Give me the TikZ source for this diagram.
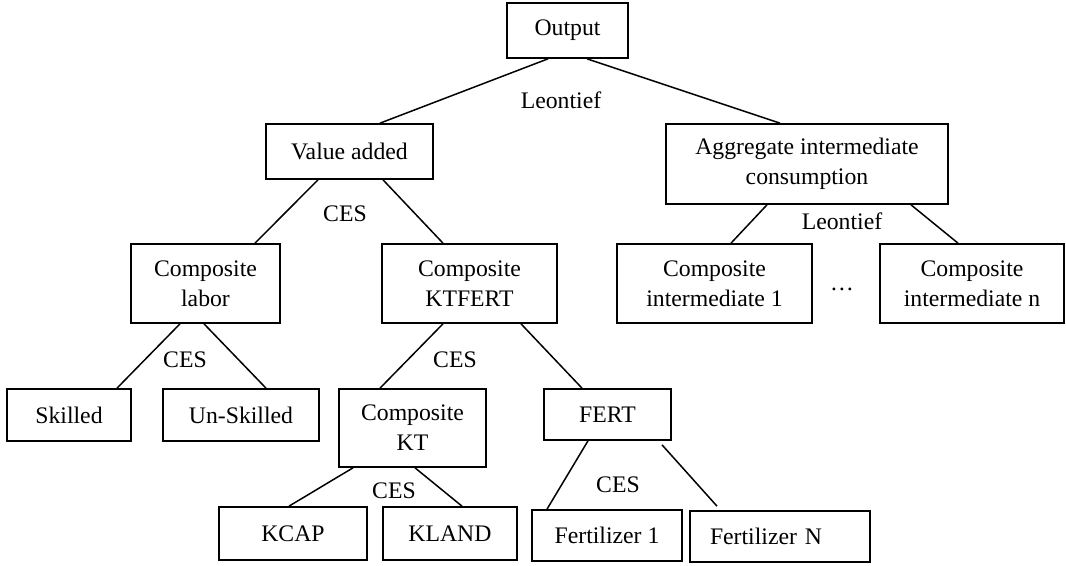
\documentclass[tikz,border=0pt]{standalone}
\usepackage{fontspec}
\setmainfont{Liberation Serif}
\usepackage{tikz}
\usetikzlibrary{shapes,arrows.meta,calc}

\begin{document}
\begin{tikzpicture}[
    font=\fontsize{13.5pt}{17pt}\selectfont,
    box/.style={draw,line width=0.95pt,inner sep=0pt,align=center},
    fn/.style={inner sep=0pt},
    link/.style={line width=0.85pt,black}
  ]
        \useasboundingbox (0,0) rectangle (21.32,-11.32);

        % nodes of the nest
        \node[box,minimum width=2.42cm,minimum height=1.10cm] (out) at (11.35,-0.61) {Output};
        \node[box,minimum width=3.34cm,minimum height=1.10cm] (va) at (6.99,-3.03) {Value added};
        \node[box,minimum width=5.64cm,minimum height=1.60cm] (agg) at (16.14,-3.28) {Aggregate intermediate\\consumption};
        \node[box,minimum width=2.98cm,minimum height=1.58cm] (lab) at (4.11,-5.67) {Composite\\labor};
        \node[box,minimum width=3.50cm,minimum height=1.58cm] (ktfert) at (9.39,-5.67) {Composite\\KTFERT};
        \node[box,minimum width=3.90cm,minimum height=1.58cm] (int1) at (14.29,-5.67) {Composite\\intermediate 1};
        \node[box,minimum width=3.68cm,minimum height=1.58cm] (intn) at (19.44,-5.67) {Composite\\intermediate n};
        \node[box,minimum width=2.48cm,minimum height=1.04cm] (skl) at (1.38,-8.30) {Skilled};
        \node[box,minimum width=3.12cm,minimum height=1.04cm] (unskl) at (4.82,-8.30) {Un-Skilled};
        \node[box,minimum width=2.94cm,minimum height=1.56cm] (kt) at (8.25,-8.56) {Composite\\KT};
        \node[box,minimum width=2.54cm,minimum height=1.02cm] (fert) at (12.15,-8.29) {FERT};
        \node[box,minimum width=2.96cm,minimum height=1.06cm] (kcap) at (5.86,-10.67) {KCAP};
        \node[box,minimum width=2.68cm,minimum height=1.06cm] (kland) at (9.00,-10.67) {KLAND};
        \node[box,minimum width=3.00cm,minimum height=1.02cm] (fert1) at (12.14,-10.71) {Fertilizer 1};
        \node[box,inner xsep=0.4cm,text width=2.8cm,align=left,minimum height=1.02cm] (fertn) at (15.60,-10.73) {Fertilizer N};

        % function labels
        \node[fn] (leo1) at (11.22,-2.00) {Leontief};
        \node[fn] (leo2) at (16.84,-4.42) {Leontief};
        \node[fn] (ces1) at (6.90,-4.28) {CES};
        \node[fn] (ces2) at (3.70,-7.20) {CES};
        \node[fn] (ces3) at (9.10,-7.20) {CES};
        \node[fn] (ces4) at (7.88,-9.82) {CES};
        \node[fn] (ces5) at (12.36,-9.70) {CES};
        \node[fn,anchor=base] (dots) at (16.84,-5.82) {…};

        % links
        \draw[link] ([xshift=-0.39cm]out.south) -- ([xshift=0.61cm]va.north);
        \draw[link] ([xshift=0.39cm]out.south) -- ([xshift=-0.54cm]agg.north);
        \draw[link] ([xshift=-0.63cm]va.south) -- ([xshift=0.99cm]lab.north);
        \draw[link] ([xshift=0.67cm]va.south) -- ([xshift=-0.53cm]ktfert.north);
        \draw[link] ([xshift=-0.80cm]agg.south) -- ([xshift=0.33cm]int1.north);
        \draw[link] ([xshift=2.08cm]agg.south) -- ([xshift=-0.28cm]intn.north);
        \draw[link] ([xshift=-0.51cm]lab.south) -- ([xshift=0.96cm]skl.north);
        \draw[link] ([xshift=-0.03cm]lab.south) -- ([xshift=0.50cm]unskl.north);
        \draw[link] ([xshift=-0.53cm]ktfert.south) -- ([xshift=-0.65cm]kt.north);
        \draw[link] ([xshift=1.03cm]ktfert.south) -- ([xshift=-0.51cm]fert.north);
        \draw[link] ([xshift=-1.19cm]kt.south) -- ([xshift=-0.08cm]kcap.north);
        \draw[link] ([xshift=0.05cm]kt.south) -- ([xshift=0.24cm]kland.north);
        \draw[link] ([xshift=-0.39cm]fert.south) -- ([xshift=-1.20cm]fert1.north);
        \draw[link] ([xshift=1.09cm,yshift=-0.08cm]fert.south) -- ([xshift=-1.26cm,yshift=0.08cm]fertn.north);

      \end{tikzpicture}
\end{document}
